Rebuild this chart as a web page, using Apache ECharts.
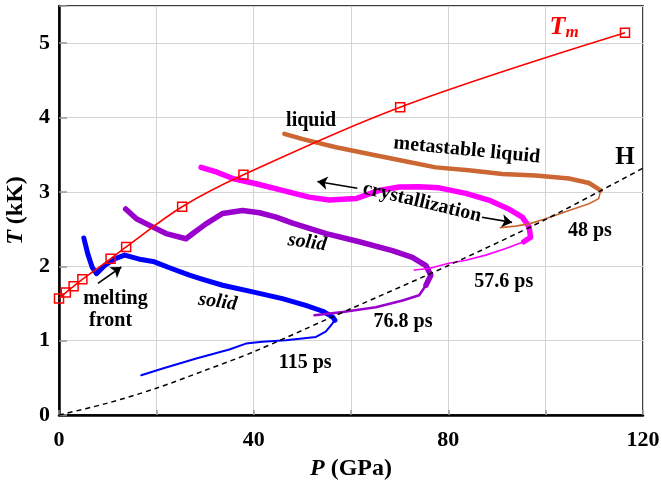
<!DOCTYPE html>
<html>
<head>
<meta charset="utf-8">
<script src="https://cdn.jsdelivr.net/npm/echarts@6/dist/echarts.min.js"></script>
<style>
  html, body { margin: 0; padding: 0; background: #fff; }
  #chart { width: 662px; height: 485px; }
</style>
</head>
<body>
<div id="chart"></div>
<script>
// Melting curve T_m(P)
const tmP = [0, 1.4, 3.0, 4.8, 10.6, 13.8, 25.3, 37.9, 70.1, 116.3];
const tmT = [1.566, 1.647, 1.73, 1.825, 2.10, 2.26, 2.80, 3.23, 4.14, 5.14];

// Hugoniot H
const hugP = [0, 10, 20, 30, 40, 55.5, 60, 80, 100, 120];
const hugT = [0, 0.16, 0.36, 0.60, 0.85, 1.30, 1.43, 2.01, 2.63, 3.32];

// 115 ps trace: main (thick) part and release tail (thin)
const p115 = [5.1, 5.9, 6.8, 7.7, 9.4, 11.4, 13.5, 16.9, 19.6, 23.1, 26.8, 29.2, 33.6, 39.8, 45.9, 50.7, 54.2, 56.2, 56.7];
const t115 = [2.38, 2.17, 1.99, 1.90, 2.01, 2.10, 2.15, 2.09, 2.06, 1.97, 1.88, 1.83, 1.745, 1.655, 1.565, 1.475, 1.395, 1.32, 1.275];
const p115tail = [56.7, 55.8, 54.8, 52.8, 46.6, 41.8, 38.4, 35.0, 28.2, 21.3, 16.9];
const t115tail = [1.275, 1.20, 1.12, 1.05, 1.005, 0.985, 0.96, 0.88, 0.76, 0.625, 0.535];

// 76.8 ps trace
const p768 = [13.7, 15.9, 18.6, 22.0, 26.1, 27.5, 30.2, 33.6, 37.7, 41.2, 44.6, 48.0, 54.9, 61.7, 68.5, 72.6, 75.4, 76.4, 75.4];
const t768 = [2.77, 2.64, 2.55, 2.44, 2.37, 2.44, 2.57, 2.71, 2.75, 2.72, 2.66, 2.58, 2.44, 2.33, 2.21, 2.12, 2.01, 1.88, 1.745];
const p768tail = [75.4, 74.0, 70.6, 65.1, 58.3, 52.5];
const t768tail = [1.745, 1.61, 1.54, 1.45, 1.385, 1.34];

// 57.6 ps trace
const p576 = [29.2, 32.3, 35.7, 40.5, 45.9, 51.4, 55.5, 61.0, 65.8, 69.9, 74.0, 78.1, 83.6, 88.3, 92.4, 95.2, 96.6, 96.9, 95.5];
const t576 = [3.33, 3.27, 3.18, 3.11, 3.02, 2.93, 2.89, 2.91, 3.02, 3.065, 3.07, 3.055, 2.98, 2.89, 2.77, 2.66, 2.53, 2.39, 2.33];
const p576tail = [95.5, 91.8, 87.7, 83.6, 80.1, 76.0, 73.0];
const t576tail = [2.33, 2.24, 2.15, 2.08, 2.04, 1.97, 1.95];

// 48 ps trace
const p48 = [46.3, 50.1, 56.9, 63.7, 70.6, 77.4, 84.2, 91.1, 97.9, 104.8, 108.9, 111.3];
const t48 = [3.78, 3.71, 3.60, 3.51, 3.42, 3.33, 3.29, 3.24, 3.22, 3.18, 3.12, 3.02];
const p48tail = [111.3, 110.9, 108.9, 104.8, 100.0, 96.6, 93.8, 90.7];
const t48tail = [3.02, 2.91, 2.84, 2.75, 2.64, 2.57, 2.54, 2.52];

// Axis ticks
const xTicks = [0, 40, 80, 120];
const yTicks = [0, 1, 2, 3, 4, 5];

const SERIF = '"Liberation Serif", "Times New Roman", serif';
const pairs = (xs, ys) => xs.map((x, i) => [x, ys[i]]);

function trace(xs, ys, color, width) {
  return {
    type: 'line', data: pairs(xs, ys), showSymbol: false, symbol: 'none',
    lineStyle: { color: color, width: width, join: 'round', cap: 'round' },
    silent: true, z: 3
  };
}

const chart = echarts.init(document.getElementById('chart'), null, { renderer: 'canvas' });

chart.setOption({
  animation: false,
  backgroundColor: '#fff',
  grid: {
    left: 59, right: 19, top: 6, bottom: 70, containLabel: false, outerBoundsMode: 'none',
    show: true, borderColor: '#000', borderWidth: 1.5
  },
  xAxis: {
    type: 'value', min: 0, max: 120, interval: 20,
    name: '{i|P} (GPa)', nameLocation: 'middle', nameGap: 42,
    nameTextStyle: {
      fontFamily: SERIF, fontWeight: 'bold', fontSize: 24, color: '#000',
      rich: { i: { fontFamily: SERIF, fontWeight: 'bold', fontStyle: 'italic', fontSize: 24, color: '#000' } }
    },
    axisLine: { show: true, onZero: false, lineStyle: { color: '#000', width: 2.5 } },
    axisTick: { show: true, inside: true, length: 5, lineStyle: { color: '#999', width: 1.5 } },
    splitLine: { show: true, lineStyle: { color: '#d4d4d4', width: 1 } },
    axisLabel: {
      margin: 14, fontFamily: SERIF, fontWeight: 'bold', fontSize: 22, color: '#000',
      formatter: v => (xTicks.indexOf(v) >= 0 ? String(v) : '')
    }
  },
  yAxis: {
    type: 'value', min: 0, max: 5.5, interval: 1,
    name: '{i|T} (kK)', nameLocation: 'middle', nameGap: 30, nameRotate: 90,
    nameTextStyle: {
      fontFamily: SERIF, fontWeight: 'bold', fontSize: 24, color: '#000',
      rich: { i: { fontFamily: SERIF, fontWeight: 'bold', fontStyle: 'italic', fontSize: 24, color: '#000' } }
    },
    axisLine: { show: true, onZero: false, lineStyle: { color: '#000', width: 2.5 } },
    axisTick: { show: true, inside: true, length: 8, lineStyle: { color: '#999', width: 1.5 } },
    splitLine: { show: true, lineStyle: { color: '#d4d4d4', width: 1 } },
    axisLabel: {
      margin: 9, fontFamily: SERIF, fontWeight: 'bold', fontSize: 22, color: '#000',
      formatter: v => (yTicks.indexOf(v) >= 0 ? String(v) : '')
    }
  },
  series: [
    trace(p115tail, t115tail, '#0000ff', 2),
    trace(p115, t115, '#0000ff', 5),
    trace(p768, t768, '#9900cc', 5.5),
    trace(p768tail, t768tail, '#9900cc', 2.5),
    trace(p576tail, t576tail, '#ff00ff', 1.6),
    trace(p576, t576, '#ff00ff', 5.5),
    trace(p48, t48, '#cc6633', 4.5),
    trace(p48tail, t48tail, '#cc6633', 1.6),
    {
      type: 'line', data: pairs(hugP, hugT), smooth: 0.3, showSymbol: false, symbol: 'none',
      lineStyle: { color: '#000', width: 1.5, type: [5, 4] }, z: 4, silent: true
    },
    {
      type: 'line', data: pairs(tmP, tmT), smooth: 0.35, symbol: 'rect', symbolSize: 9, showSymbol: true,
      lineStyle: { color: '#ff0000', width: 1.6 },
      itemStyle: { color: 'rgba(255,255,255,0)', borderColor: '#ff0000', borderWidth: 1.5 },
      z: 5, silent: true
    },
    {
      type: 'lines', coordinateSystem: 'cartesian2d', symbol: ['none', 'arrow'], symbolSize: 10,
      lineStyle: { color: '#000', width: 1.6, curveness: 0, opacity: 1 },
      itemStyle: { color: '#000' },
      z: 6, silent: true,
      data: [
        { coords: [[8.0, 1.77], [12.8, 1.99]] },
        { coords: [[61.3, 3.05], [53.1, 3.14]] },
        { coords: [[86.9, 2.66], [93.1, 2.59]] }
      ]
    }
  ]
});

// Annotations anchored in data coordinates
const notes = [
  { text: 'liquid', at: [51.8, 3.96], rot: 0 },
  { text: 'metastable liquid', at: [83.8, 3.56], rot: -5.5 },
  { text: 'crystallization', at: [74.6, 2.86], rot: -13.5 },
  { text: 'solid', at: [32.6, 1.52], rot: -8, italic: true },
  { text: 'solid', at: [51.0, 2.32], rot: -8, italic: true },
  { text: 'melting', at: [11.6, 1.56], rot: 0 },
  { text: 'front', at: [10.6, 1.27], rot: 0 },
  { text: '115 ps', at: [50.6, 0.70], rot: 0 },
  { text: '76.8 ps', at: [70.7, 1.25], rot: 0 },
  { text: '57.6 ps', at: [91.4, 1.79], rot: 0 },
  { text: '48 ps', at: [109.1, 2.47], rot: 0 },
  { text: 'H', at: [116.3, 3.46], rot: 0, size: 25 }
];

const elements = notes.map(n => {
  const p = chart.convertToPixel({ gridIndex: 0 }, n.at);
  return {
    type: 'text', x: p[0], y: p[1], rotation: n.rot * Math.PI / 180, z: 10,
    style: {
      text: n.text, x: 0, y: 0, align: 'center', verticalAlign: 'middle', fill: '#000',
      fontFamily: SERIF, fontWeight: 'bold', fontStyle: n.italic ? 'italic' : 'normal', fontSize: n.size || 20
    }
  };
});

const tmPos = chart.convertToPixel({ gridIndex: 0 }, [103.8, 5.22]);
elements.push({
  type: 'text', x: tmPos[0], y: tmPos[1], z: 10,
  style: {
    text: '{a|T}{b|m}', align: 'center', verticalAlign: 'middle',
    rich: {
      a: { fontFamily: SERIF, fontWeight: 'bold', fontStyle: 'italic', fontSize: 26, fill: '#ff0000', color: '#ff0000' },
      b: { fontFamily: SERIF, fontWeight: 'bold', fontStyle: 'italic', fontSize: 17, fill: '#ff0000', color: '#ff0000', padding: [12, 0, 0, 0] }
    }
  }
});

chart.setOption({ graphic: { elements: elements } });
</script>
</body>
</html>
